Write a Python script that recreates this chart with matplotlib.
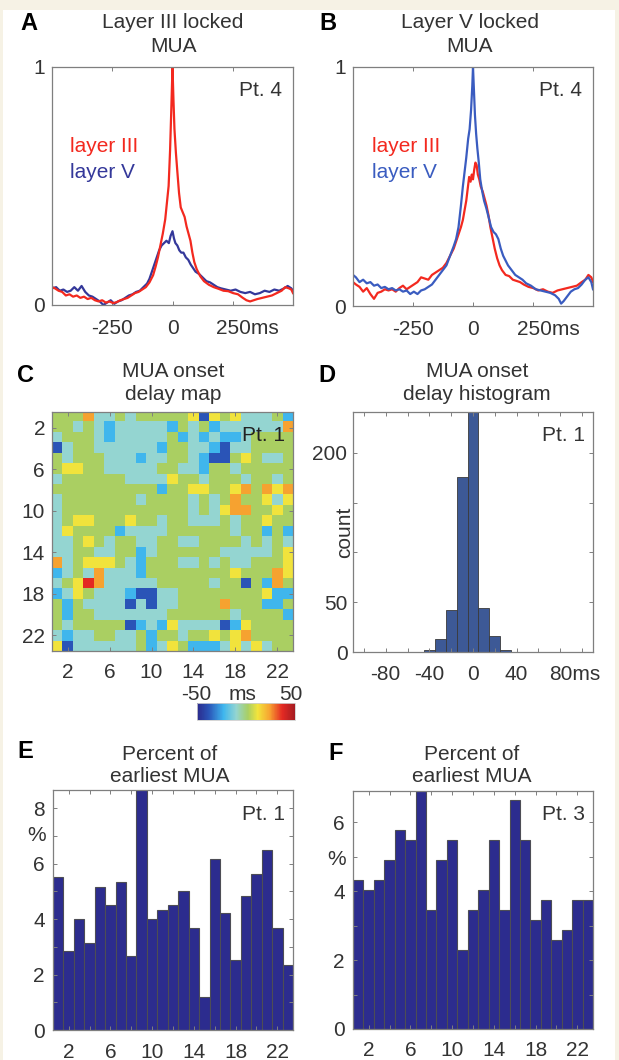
"""
MUA onset panels (A-F): locked MUA traces, onset delay map/histogram,
and percent of earliest MUA per electrode row.
Writes out.png (619x1060).
"""

import numpy as np
import matplotlib
matplotlib.use("Agg")
import matplotlib.pyplot as plt
from matplotlib.colors import LinearSegmentedColormap
from matplotlib.patches import Rectangle
from matplotlib.transforms import ScaledTranslation

plt.rcParams["font.family"] = ["Liberation Sans", "DejaVu Sans"]
plt.rcParams["axes.unicode_minus"] = False

W, H = 619, 1060
FS     = 15
TEXT   = "#333333"
SPINE  = "#7f7f7f"
RED    = "#f3291f"
BLUE_A = "#34389a"
BLUE_B = "#3a5cc0"
BEIGE  = "#f6f2e5"

# ---- A: layer III locked MUA (Pt. 4) ----
A_RED_T = [-497, -485, -470, -455, -440, -425, -410, -395, -380, -365, -350, -335, -320, -305,
           -290, -275, -260, -245, -230, -215, -200, -185, -170, -155, -140, -125, -110, -95,
           -80, -70, -60, -50, -40, -30, -22, -16, -10, -5, 0, 4, 8, 14, 20, 27, 34, 42, 50,
           58, 66, 74, 82, 90, 100, 115, 130, 150, 170, 190, 210, 230, 250, 270, 290, 305,
           320, 335, 350, 370, 390, 410, 430, 450, 465, 480, 490, 497]
A_RED_V = [0.075, 0.07, 0.06, 0.055, 0.04, 0.045, 0.035, 0.04, 0.03, 0.035, 0.025, 0.03, 0.02,
           0.015, 0.02, 0.01, 0.015, 0.008, 0.012, 0.02, 0.025, 0.03, 0.04, 0.05, 0.055, 0.065,
           0.075, 0.095, 0.125, 0.16, 0.2, 0.25, 0.3, 0.36, 0.44, 0.5, 0.65, 0.82, 1.0, 0.86,
           0.74, 0.64, 0.56, 0.47, 0.41, 0.39, 0.37, 0.33, 0.3, 0.27, 0.22, 0.18, 0.15, 0.12,
           0.1, 0.085, 0.075, 0.068, 0.06, 0.058, 0.05, 0.045, 0.03, 0.02, 0.015, 0.02, 0.025,
           0.03, 0.035, 0.04, 0.05, 0.06, 0.075, 0.07, 0.065, 0.05]
A_BLUE_T = [-497, -480, -465, -450, -435, -420, -405, -390, -375, -360, -345, -330, -315, -300,
            -285, -270, -255, -240, -225, -210, -195, -180, -165, -150, -135, -120, -105, -95,
            -85, -75, -65, -55, -45, -35, -25, -15, -8, 0, 6, 12, 20, 28, 36, 45, 55, 65, 75,
            85, 95, 110, 125, 140, 155, 170, 185, 200, 220, 240, 260, 280, 300, 320, 340, 360,
            380, 400, 420, 440, 460, 475, 490, 497]
A_BLUE_V = [0.07, 0.075, 0.06, 0.065, 0.055, 0.06, 0.075, 0.06, 0.08, 0.055, 0.04, 0.035, 0.025,
            0.015, 0.0, 0.01, 0.02, 0.005, 0.015, 0.02, 0.03, 0.04, 0.045, 0.055, 0.06, 0.075,
            0.09, 0.11, 0.14, 0.17, 0.2, 0.23, 0.25, 0.26, 0.27, 0.26, 0.29, 0.31, 0.28, 0.26,
            0.25, 0.23, 0.22, 0.22, 0.2, 0.19, 0.17, 0.155, 0.14, 0.13, 0.115, 0.1, 0.095,
            0.085, 0.075, 0.07, 0.065, 0.06, 0.065, 0.055, 0.05, 0.055, 0.045, 0.05, 0.06,
            0.055, 0.065, 0.06, 0.07, 0.08, 0.07, 0.06]

# ---- B: layer V locked MUA (Pt. 4) ----
B_BLUE_T = [-497, -485, -470, -455, -440, -425, -410, -395, -380, -365, -350, -335, -320, -305,
            -290, -275, -260, -245, -230, -215, -200, -185, -170, -155, -140, -125, -110, -95,
            -80, -70, -60, -50, -42, -35, -28, -20, -14, -8, -3, 0, 4, 8, 13, 18, 24, 30, 38,
            46, 55, 65, 75, 85, 95, 105, 115, 125, 135, 145, 160, 175, 190, 205, 220, 240, 260,
            280, 300, 320, 340, 355, 365, 375, 390, 405, 420, 435, 450, 465, 478, 490, 497]
B_BLUE_V = [0.13, 0.12, 0.1, 0.11, 0.095, 0.1, 0.085, 0.09, 0.075, 0.08, 0.07, 0.075, 0.065,
            0.07, 0.06, 0.065, 0.05, 0.06, 0.05, 0.065, 0.07, 0.08, 0.09, 0.11, 0.13, 0.15,
            0.17, 0.21, 0.25, 0.28, 0.33, 0.42, 0.5, 0.56, 0.62, 0.7, 0.74, 0.82, 0.92, 1.0,
            0.9, 0.8, 0.72, 0.66, 0.6, 0.53, 0.48, 0.44, 0.41, 0.37, 0.33, 0.31, 0.3, 0.28,
            0.24, 0.21, 0.19, 0.17, 0.15, 0.13, 0.12, 0.11, 0.095, 0.085, 0.07, 0.065, 0.06,
            0.055, 0.045, 0.03, 0.01, 0.02, 0.04, 0.06, 0.07, 0.075, 0.09, 0.11, 0.12, 0.1, 0.07]
B_RED_T = [-497, -485, -470, -455, -440, -425, -410, -395, -380, -365, -350, -335, -320, -305,
           -290, -275, -260, -245, -230, -215, -200, -185, -170, -155, -140, -125, -110, -95,
           -80, -70, -60, -50, -42, -35, -28, -22, -16, -10, -5, 0, 5, 10, 15, 20, 26, 32, 40,
           48, 56, 64, 72, 80, 90, 100, 110, 120, 135, 150, 165, 180, 195, 210, 230, 250, 270,
           290, 310, 330, 350, 370, 390, 410, 430, 450, 465, 478, 490, 497]
B_RED_V = [0.1, 0.09, 0.08, 0.06, 0.075, 0.05, 0.03, 0.055, 0.06, 0.07, 0.065, 0.07, 0.06, 0.075,
           0.085, 0.07, 0.08, 0.09, 0.1, 0.12, 0.115, 0.11, 0.13, 0.14, 0.15, 0.16, 0.18, 0.21,
           0.24, 0.27, 0.3, 0.33, 0.36, 0.4, 0.44, 0.49, 0.54, 0.52, 0.55, 0.53, 0.57, 0.6,
           0.59, 0.55, 0.53, 0.5, 0.48, 0.45, 0.42, 0.38, 0.33, 0.29, 0.24, 0.2, 0.17, 0.15,
           0.13, 0.125, 0.11, 0.105, 0.1, 0.09, 0.08, 0.075, 0.065, 0.07, 0.06, 0.055, 0.065,
           0.07, 0.075, 0.08, 0.085, 0.1, 0.11, 0.13, 0.12, 0.1]

# ---- C: onset delay map (Pt. 1), 23x23 electrodes ----
# B dark blue, L light blue, T teal, G green, Y yellow, O orange, R red
DELAY_CODES = {"B": -38, "L": -23, "T": -10, "G": 2, "Y": 12, "O": 24, "R": 37}
DELAY_ROWS = [
    "GGGOTTGTGGGGGYBYGYTTTGL",
    "GGTGTLTTTTTLGTGLTTTTTTO",
    "TGGGTLTTTTTGLTLTLLTGGGG",
    "BTGGTTTTTTLGGTTLBTTGGGG",
    "GTGGGTTTLTTGGTLBBGYGTTG",
    "GYYGGTTTTTGGTTLGGTGGGGG",
    "TGGGGGGTTTTYGGTGGGTGGTG",
    "GGGGGGGGGGLGGYYGGYOGOYO",
    "TGGGGGGGTGGGGTGTGOGGYTY",
    "TGGGGGGGGGGGGTGTYOOGGYG",
    "TGYYGGGYGGTGGTTTGTGGYGG",
    "TYGGGGLTTTTGGGGGGTGGLGL",
    "TTGYGTGGTTGGTTGGGGTGTGT",
    "TTGGTTGGLTGGGGGGTTTTTGY",
    "OTGYYYGTLGGGTTGTGTTGGGY",
    "LTGTOTTTLGGGGGGGGYGGGOY",
    "TGYROTTTTTGGGGGTGGBGLOG",
    "LTYGTTTLBBTTGGGGGGGGYLL",
    "GLGTTTTBTBTTGGGGOGGGLLG",
    "GLGGTTTTTTTGGGGGGTGGGGL",
    "GTGGGGGBLTLYTTTTBLYGGGG",
    "TLTTGGTTGLGGTGGYGYOGGGG",
    "YBTTTTTTGLTYGLLLTYTYTGG",
]
DELAY_RANGE = (-50, 50)

# ---- D: onset delay histogram (Pt. 1) ----
HIST_CENTERS = [-40, -30, -20, -10, 0, 10, 20, 30]
HIST_COUNTS  = [2, 13, 42, 176, 262, 44, 16, 2]

# ---- E / F: percent of earliest MUA per row ----
ROWS_IDX = list(range(1, 24))
E_PCT = [5.52, 2.84, 4.0, 3.15, 5.16, 4.52, 5.34, 2.67, 9.0, 4.0, 4.32, 4.5, 5.0, 3.66, 1.2,
         6.15, 4.2, 2.52, 4.82, 5.64, 6.47, 3.66, 2.34]
F_PCT = [4.31, 4.04, 4.31, 4.91, 5.78, 5.49, 7.2, 3.46, 4.91, 5.49, 2.29, 3.46, 4.04, 5.49,
         3.46, 6.65, 5.49, 3.17, 3.75, 2.58, 2.88, 3.75, 3.75]

DELAY_CMAP = LinearSegmentedColormap.from_list("delay", [
    (0.00, "#2b2a8c"), (0.12, "#2a55b8"), (0.27, "#3fb6ee"), (0.40, "#94d5d1"),
    (0.52, "#a9cf63"), (0.62, "#f2e43c"), (0.74, "#f7a431"), (0.87, "#e42a23"),
    (1.00, "#a51c22")])


def px_axes(fig, x0, y0, x1, y1):
    return fig.add_axes([x0 / W, 1 - y1 / H, (x1 - x0) / W, (y1 - y0) / H])


def ftext(fig, x, y, s, **kw):
    kw.setdefault("color", TEXT)
    kw.setdefault("fontsize", FS)
    fig.text(x / W, 1 - y / H, s, ha=kw.pop("ha", "center"), va=kw.pop("va", "center"), **kw)


def letter(fig, x, y, s):
    ftext(fig, x, y, s, fontweight="bold", fontsize=17, color="black")


def style(ax, xpad=8, ypad=5):
    for s in ax.spines.values():
        s.set_color(SPINE)
        s.set_linewidth(0.9)
    ax.tick_params(which="both", direction="in", top=True, right=True, colors=SPINE,
                   labelcolor=TEXT, labelsize=FS, length=3, width=0.7)
    ax.tick_params(axis="x", pad=xpad)
    ax.tick_params(axis="y", pad=ypad)


def ms_last_tick(fig, ax):
    # last x label reads e.g. "250ms" with the number still centred on its tick
    labels = [t.get_text() for t in ax.get_xticklabels()]
    labels[-1] = labels[-1] + "ms"
    ax.set_xticklabels(labels)
    shift = ScaledTranslation(10.5 / 72, 0, fig.dpi_scale_trans)
    lab = ax.get_xticklabels()[-1]
    lab.set_transform(lab.get_transform() + shift)


def trace_panel(fig, box, traces):
    ax = px_axes(fig, *box)
    for t, v, c in traces:
        ax.plot(t, v, color=c, lw=1.6)
    ax.set_xlim(-497, 497)
    ax.set_ylim(0, 1)
    ax.set_xticks([-250, 0, 250])
    ax.set_xticklabels(["-250", "0", "250"])
    ax.set_yticks([0, 1])
    ax.set_yticklabels(["0", "1"])
    style(ax, xpad=10, ypad=5)
    ms_last_tick(fig, ax)
    return ax


def bar_panel(fig, box, vals, ytop, yticks, pct_y, pt):
    ax = px_axes(fig, *box)
    ax.bar(ROWS_IDX, vals, width=1.0, color="#2c2c8e", edgecolor="#4d4d55", linewidth=0.8)
    ax.set_xlim(0.5, 23.5)
    ax.set_ylim(0, ytop)
    ax.set_xticks([2, 6, 10, 14, 18, 22])
    ax.set_xticks(range(4, 22, 4), minor=True)
    ax.set_yticks(yticks)
    ax.set_yticks(range(1, int(ytop) + 1, 2), minor=True)
    style(ax, xpad=9, ypad=6)
    ax.annotate("%", xy=(0, pct_y), xycoords=("axes fraction", "data"), xytext=(-5, 0),
                textcoords="offset points", ha="right", va="center", fontsize=FS, color=TEXT)
    ax.text(0.965, 0.9, pt, transform=ax.transAxes, ha="right", va="center",
            fontsize=FS, color=TEXT)
    return ax


fig = plt.figure(figsize=(W / 100, H / 100), dpi=100, facecolor=BEIGE)
fig.patches.append(Rectangle((3 / W, 0), 612 / W, 1 - 10 / H, transform=fig.transFigure,
                             facecolor="white", edgecolor="none", zorder=-1))

# A
trace_panel(fig, (52, 67, 293, 305), [(A_BLUE_T, A_BLUE_V, BLUE_A), (A_RED_T, A_RED_V, RED)])
letter(fig, 29, 23, "A")
ftext(fig, 173, 22, "Layer III locked")
ftext(fig, 173, 46, "MUA")
ftext(fig, 282, 90, "Pt. 4", ha="right")
ftext(fig, 70, 147, "layer III", ha="left", color=RED)
ftext(fig, 70, 173, "layer V", ha="left", color=BLUE_A)

# B
trace_panel(fig, (353, 67, 593, 306), [(B_RED_T, B_RED_V, RED), (B_BLUE_T, B_BLUE_V, BLUE_B)])
letter(fig, 328, 23, "B")
ftext(fig, 470, 22, "Layer V locked")
ftext(fig, 470, 46, "MUA")
ftext(fig, 582, 90, "Pt. 4", ha="right")
ftext(fig, 372, 147, "layer III", ha="left", color=RED)
ftext(fig, 372, 173, "layer V", ha="left", color=BLUE_B)

# C
delay = np.array([[DELAY_CODES[ch] for ch in row] for row in DELAY_ROWS], dtype=float)
axc = px_axes(fig, 52, 412, 293, 651)
im = axc.imshow(delay, cmap=DELAY_CMAP, vmin=DELAY_RANGE[0], vmax=DELAY_RANGE[1],
                extent=(0.5, 23.5, 23.5, 0.5), aspect="auto", interpolation="nearest")
axc.set_xticks([2, 6, 10, 14, 18, 22])
axc.set_yticks([2, 6, 10, 14, 18, 22])
style(axc, xpad=9, ypad=5)
axc.text(0.965, 0.9, "Pt. 1", transform=axc.transAxes, ha="right", va="center",
         fontsize=FS, color="#222222")
letter(fig, 25, 375, "C")
ftext(fig, 173, 372, "MUA onset")
ftext(fig, 173, 395, "delay map")

cax = px_axes(fig, 197, 703, 295, 720)
cb = fig.colorbar(im, cax=cax, orientation="horizontal")
cb.set_ticks([])
cb.outline.set_edgecolor("#cfcfcf")
cb.outline.set_linewidth(0.6)
ftext(fig, 196, 694, "-50")
ftext(fig, 243, 694, "ms")
ftext(fig, 291, 694, "50")

# D
axd = px_axes(fig, 353, 412, 593, 652)
axd.bar(HIST_CENTERS, HIST_COUNTS, width=10, color="#3d5996", edgecolor="#3a3a3a", linewidth=0.6)
axd.set_xlim(-110, 110)
axd.set_ylim(0, 241)
axd.set_xticks([-80, -40, 0, 40, 80])
axd.set_xticks(range(-100, 101, 20), minor=True)
axd.set_yticks([0, 50, 100, 150, 200])
axd.set_yticklabels(["0", "50", "", "", "200"])
style(axd, xpad=9, ypad=4)
ms_last_tick(fig, axd)
axd.text(-0.035, 0.5, "count", transform=axd.transAxes, rotation=90, ha="center",
         va="center", fontsize=FS, color=TEXT)
axd.text(0.965, 0.9, "Pt. 1", transform=axd.transAxes, ha="right", va="center",
         fontsize=FS, color=TEXT)
letter(fig, 327, 375, "D")
ftext(fig, 477, 372, "MUA onset")
ftext(fig, 477, 394, "delay histogram")

# E
bar_panel(fig, (53, 790, 293, 1030), E_PCT, 8.65, [0, 2, 4, 6, 8], 7, "Pt. 1")
letter(fig, 25, 752, "E")
ftext(fig, 170, 755, "Percent of")
ftext(fig, 170, 776, "earliest MUA")

# F
bar_panel(fig, (353, 791, 593, 1029), F_PCT, 6.9, [0, 2, 4, 6], 4.9, "Pt. 3")
letter(fig, 336, 754, "F")
ftext(fig, 472, 755, "Percent of")
ftext(fig, 472, 776, "earliest MUA")

fig.savefig("out.png", dpi=100, facecolor=fig.get_facecolor())
